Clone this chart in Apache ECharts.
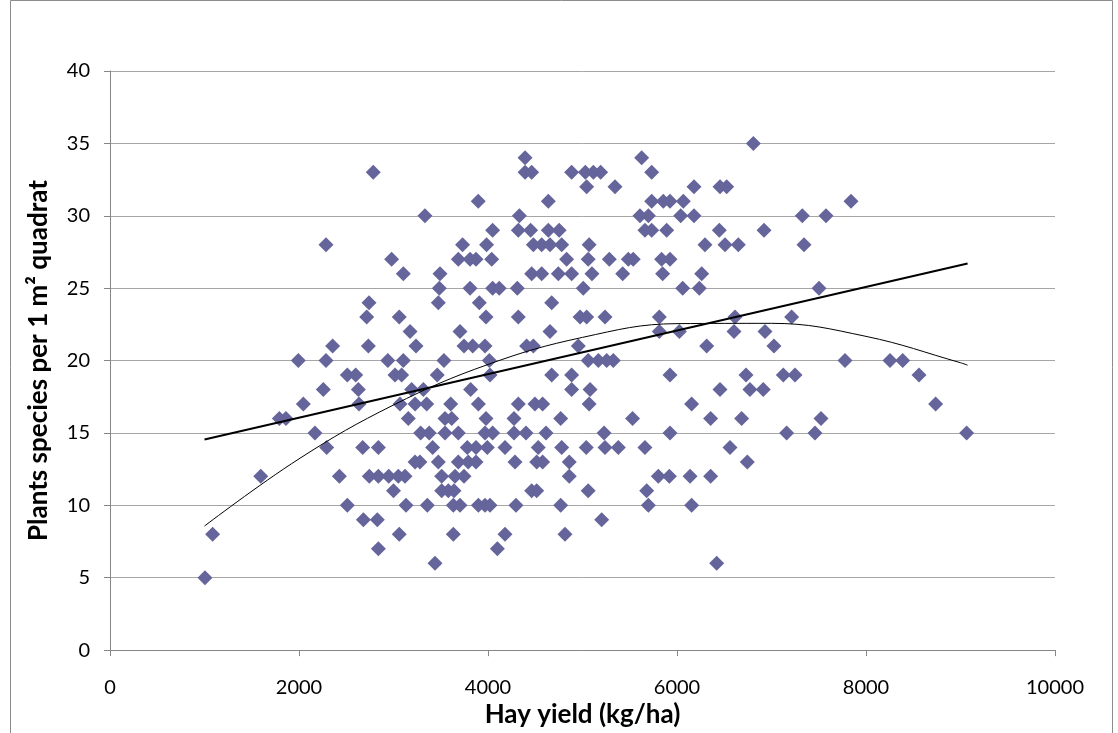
<!DOCTYPE html>
<html>
<head>
<meta charset="utf-8">
<script src="https://cdn.jsdelivr.net/npm/echarts@6/dist/echarts.min.js"></script>
<style>
html,body{margin:0;padding:0;background:#fff;}
#chart{width:1118px;height:733px;}
</style>
</head>
<body>
<div id="chart"></div>
<script>
// Observed data: species count (y) -> list of hay yields (x, kg/ha)
const y35 = [6808];
const y34 = [4392, 5626];
const y33 = [2786, 4392, 4462, 4885, 5030, 5115, 5192, 5732];
const y32 = [5044, 5344, 6180, 6455, 6526];
const y31 = [3897, 4638, 5732, 5855, 5926, 6067, 7841];
const y30 = [3333, 4332, 5608, 5697, 6039, 6180, 7326, 7577];
const y29 = [4049, 4321, 4451, 4638, 4753, 5661, 5732, 5891, 6448, 6921];
const y28 = [2286, 3731, 3985, 4480, 4568, 4656, 4780, 5070, 6296, 6508, 6649, 7344];
const y27 = [2980, 3686, 3810, 3873, 4039, 4832, 5060, 5284, 5485, 5537, 5837, 5926];
const y26 = [3104, 3492, 4462, 4568, 4744, 4885, 5100, 5425, 5848, 6261];
const y25 = [3485, 3810, 4049, 4119, 4310, 5008, 6060, 6236, 7503];
const y24 = [2741, 3474, 3908, 4674];
const y23 = [2716, 3061, 3979, 4321, 4974, 5044, 5238, 5813, 6614, 7213];
const y22 = [3175, 3704, 4656, 5813, 6025, 6603, 6931];
const y21 = [2356, 2734, 3238, 3746, 3838, 3968, 4409, 4480, 4956, 6314, 7026];
const y20 = [1993, 2286, 2940, 3104, 3534, 4014, 5060, 5168, 5256, 5326, 7778, 8254, 8388];
const y19 = [2511, 2600, 3016, 3086, 3463, 4021, 4674, 4885, 5926, 6730, 7125, 7249, 8561];
const y18 = [2257, 2628, 3192, 3316, 3816, 4885, 5080, 6455, 6772, 6913];
const y17 = [2046, 2635, 3069, 3228, 3351, 3605, 3898, 4321, 4497, 4578, 5070, 6155, 8737];
const y16 = [1792, 1862, 3157, 3545, 3616, 3979, 4275, 4769, 5530, 6356, 6684, 7524];
const y15 = [2169, 3287, 3378, 3545, 3686, 3968, 4049, 4275, 4402, 4614, 5228, 5926, 7160, 7460, 9065];
const y14 = [2293, 2674, 2840, 3414, 3781, 3873, 3993, 4180, 4532, 4780, 5040, 5238, 5379, 5661, 6561];
const y13 = [3228, 3280, 3474, 3686, 3791, 3873, 4286, 4515, 4578, 4860, 6744];
const y12 = [1595, 2427, 2744, 2840, 2950, 3051, 3122, 3510, 3651, 3746, 4860, 5802, 5919, 6138, 6356];
const y11 = [3000, 3510, 3580, 3640, 4462, 4515, 5060, 5679];
const y10 = [2511, 3132, 3358, 3633, 3704, 3898, 3968, 4021, 4296, 4769, 5697, 6155];
const y9  = [2681, 2829, 5203];
const y8  = [1086, 3061, 3633, 4180, 4815];
const y7  = [2840, 4099];
const y6  = [3439, 6420];
const y5  = [1005];

const rows = {35:y35,34:y34,33:y33,32:y32,31:y31,30:y30,29:y29,28:y28,27:y27,26:y26,25:y25,24:y24,23:y23,22:y22,21:y21,20:y20,19:y19,18:y18,17:y17,16:y16,15:y15,14:y14,13:y13,12:y12,11:y11,10:y10,9:y9,8:y8,7:y7,6:y6,5:y5};

// Trend lines
const linearTrendX = [1000, 9075];
const linearTrendY = [14.55, 26.7];
const polyTrendX = [1000, 2000, 3000, 4000, 5000, 6000, 7000, 8000, 9000, 9075];
const polyTrendY = [8.57, 13.21, 16.93, 19.73, 21.60, 22.55, 22.57, 21.67, 19.85, 19.68];

const xTicks = [0, 2000, 4000, 6000, 8000, 10000];
const yTicks = [0, 5, 10, 15, 20, 25, 30, 35, 40];

const scatterData = [];
Object.keys(rows).forEach(k => rows[k].forEach(x => scatterData.push([x, Number(k)])));

const chart = echarts.init(document.getElementById('chart'), null, {renderer: 'canvas'});
const fontFam = 'Lato, "Open Sans", "Liberation Sans", sans-serif';
chart.setOption({
  animation: false,
  backgroundColor: '#fff',
  graphic: [{
    type: 'rect', left: 8, top: -2, z: 100, silent: true,
    shape: {width: 1102, height: 740},
    style: {fill: 'none', stroke: '#8c8c8c', lineWidth: 1}
  }],
  grid: {left: 110, right: 63, top: 71, bottom: 82, containLabel: false},
  xAxis: {
    type: 'value', min: xTicks[0], max: xTicks[xTicks.length - 1], interval: xTicks[1] - xTicks[0],
    name: 'Hay yield (kg/ha)', nameLocation: 'middle', nameGap: 51,
    nameTextStyle: {fontFamily: fontFam, fontSize: 26, fontWeight: 'bold', color: '#000'},
    axisLine: {show: true, lineStyle: {color: '#868686', width: 1}},
    axisTick: {show: true, length: 6, lineStyle: {color: '#868686'}},
    axisLabel: {fontFamily: fontFam, fontSize: 20, color: '#000', margin: 27, formatter: v => String(v)},
    splitLine: {show: false}
  },
  yAxis: {
    type: 'value', min: yTicks[0], max: yTicks[yTicks.length - 1], interval: yTicks[1] - yTicks[0],
    name: 'Plants species per 1 m² quadrat', nameLocation: 'middle', nameGap: 58, nameRotate: 90,
    nameTextStyle: {fontFamily: fontFam, fontSize: 26, fontWeight: 'bold', color: '#000'},
    axisLine: {show: true, lineStyle: {color: '#868686', width: 1}},
    axisTick: {show: true, length: 6, lineStyle: {color: '#868686'}},
    axisLabel: {fontFamily: fontFam, fontSize: 20, color: '#000', margin: 20},
    splitLine: {show: true, lineStyle: {color: '#a6a6a6', width: 1}}
  },
  series: [
    {
      type: 'scatter', data: scatterData, symbol: 'diamond', symbolSize: 15,
      itemStyle: {color: '#65659b', opacity: 1}, z: 2
    },
    {
      type: 'line', data: linearTrendX.map((x, i) => [x, linearTrendY[i]]),
      showSymbol: false, symbol: 'none', lineStyle: {color: '#000', width: 2}, z: 3
    },
    {
      type: 'line', data: polyTrendX.map((x, i) => [x, polyTrendY[i]]),
      smooth: 0.4, showSymbol: false, symbol: 'none', lineStyle: {color: '#000', width: 1}, z: 3
    }
  ]
});
</script>
</body>
</html>
